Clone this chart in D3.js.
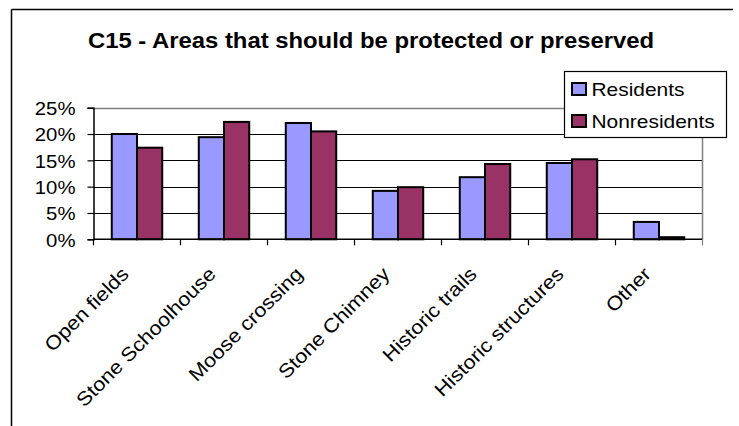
<!DOCTYPE html>
<html>
<head>
<meta charset="utf-8">
<script src="https://cdn.jsdelivr.net/npm/d3@7"></script>
<style>
  html, body { margin: 0; padding: 0; background: #fff; }
  svg { display: block; }
  text { font-family: Arial, "Liberation Sans", sans-serif; fill: #000; }
</style>
</head>
<body>
<svg id="chart" width="739" height="426"></svg>
<script>
const title = "C15 - Areas that should be protected or preserved";
const categories = ["Open fields", "Stone Schoolhouse", "Moose crossing", "Stone Chimney", "Historic trails", "Historic structures", "Other"];
const seriesNames = ["Residents", "Nonresidents"];
const residents = [20.0, 19.4, 22.1, 9.2, 11.8, 14.5, 3.3];
const nonresidents = [17.4, 22.3, 20.5, 9.9, 14.3, 15.2, 0.4];
const yTicks = [0, 5, 10, 15, 20, 25];
const colors = ["#9999FF", "#993366"];

const svg = d3.select("#chart");
const plot = { left: 93.5, right: 702.5, top: 107.7, bottom: 239.3 };

const x = d3.scaleBand().domain(categories).range([plot.left, plot.right]).padding(0);
const xs = d3.scaleBand().domain(seriesNames).range([x.bandwidth() * 0.21, x.bandwidth() * 0.79]).padding(0);
const y = d3.scaleLinear().domain([0, 25]).range([plot.bottom, plot.top]);

function stretch(sel, factor) {
  sel.each(function () {
    const len = this.getComputedTextLength();
    d3.select(this).attr("textLength", len * factor).attr("lengthAdjust", "spacingAndGlyphs");
  });
}

// chart frame (top and left edges)
svg.append("line").attr("x1", 11.5).attr("x2", 733).attr("y1", 9.5).attr("y2", 9.5).attr("stroke", "#000").attr("stroke-width", 1.5);
svg.append("line").attr("x1", 11.5).attr("x2", 11.5).attr("y1", 9.5).attr("y2", 426).attr("stroke", "#000").attr("stroke-width", 1.5);

// title
const t = svg.append("text").attr("x", 88).attr("y", 48).attr("font-size", 22.5).attr("font-weight", "bold").text(title);
t.attr("textLength", 566).attr("lengthAdjust", "spacingAndGlyphs");

// gridlines
svg.append("g").selectAll("line").data(yTicks.filter(d => d > 0 && d < 25)).join("line")
  .attr("x1", plot.left).attr("x2", plot.right)
  .attr("y1", d => Math.round(y(d)) + 0.5).attr("y2", d => Math.round(y(d)) + 0.5)
  .attr("stroke", "#000").attr("stroke-width", 1);

// plot border (top & right, gray)
svg.append("path")
  .attr("d", `M${plot.left},${Math.round(y(25)) + 0.5}H${plot.right}V${plot.bottom}`)
  .attr("fill", "none").attr("stroke", "#808080").attr("stroke-width", 1.5);

// bars
const data = categories.map((c, i) => ({ c, vals: [residents[i], nonresidents[i]] }));
const groups = svg.append("g").selectAll("g").data(data).join("g")
  .attr("transform", d => `translate(${x(d.c)},0)`);
groups.selectAll("rect").data(d => d.vals.map((v, j) => ({ s: seriesNames[j], v, j }))).join("rect")
  .attr("x", d => xs(d.s))
  .attr("width", xs.bandwidth())
  .attr("y", d => y(d.v))
  .attr("height", d => y(0) - y(d.v))
  .attr("fill", d => colors[d.j])
  .attr("stroke", "#000").attr("stroke-width", 2);

// y axis
const yAxis = d3.axisLeft(y).tickValues(yTicks).tickSize(6).tickFormat(d => d + "%");
const gy = svg.append("g").attr("transform", `translate(${plot.left},0)`).call(yAxis);
gy.select(".domain").attr("stroke", "#000").attr("stroke-width", 1.5);
gy.selectAll(".tick line").attr("stroke", "#000").attr("stroke-width", 1.2);
gy.selectAll(".tick text").attr("x", -18).attr("dy", "0.37em").attr("font-size", 18.5)
  .attr("font-family", "Arial, 'Liberation Sans', sans-serif").attr("fill", "#000");
stretch(gy.selectAll(".tick text"), 1.1);

// x axis (ticks at category boundaries)
const boundaries = categories.map(c => x(c)).concat([plot.right]);
svg.append("line").attr("x1", plot.left).attr("x2", plot.right).attr("y1", plot.bottom).attr("y2", plot.bottom)
  .attr("stroke", "#000").attr("stroke-width", 1.5);
svg.append("g").selectAll("line").data(boundaries).join("line")
  .attr("x1", d => d).attr("x2", d => d)
  .attr("y1", plot.bottom).attr("y2", plot.bottom + 6)
  .attr("stroke", (d, i) => i === boundaries.length - 1 ? "#808080" : "#000").attr("stroke-width", 1.2);

// category labels
const lab = svg.append("g").selectAll("text").data(categories).join("text")
  .attr("text-anchor", "end")
  .attr("font-size", 19.5)
  .attr("transform", d => `translate(${x(d) + x.bandwidth() / 2 - 7},${plot.bottom + 36}) rotate(-45)`)
  .text(d => d);
stretch(lab, 1.11);

// legend
const lg = svg.append("g");
lg.append("rect").attr("x", 564.5).attr("y", 71.5).attr("width", 162).attr("height", 66)
  .attr("fill", "#fff").attr("stroke", "#000").attr("stroke-width", 1.2);
const items = lg.selectAll("g.item").data(seriesNames).join("g").attr("class", "item")
  .attr("transform", (d, i) => `translate(0,${i * 32})`);
items.append("rect").attr("x", 572).attr("y", 83).attr("width", 14).attr("height", 12)
  .attr("fill", (d, i) => colors[i]).attr("stroke", "#000").attr("stroke-width", 2);
const lt = items.append("text").attr("x", 591.5).attr("y", 95.5).attr("font-size", 18.5).text(d => d);
stretch(lt, 1.13);
</script>
</body>
</html>
